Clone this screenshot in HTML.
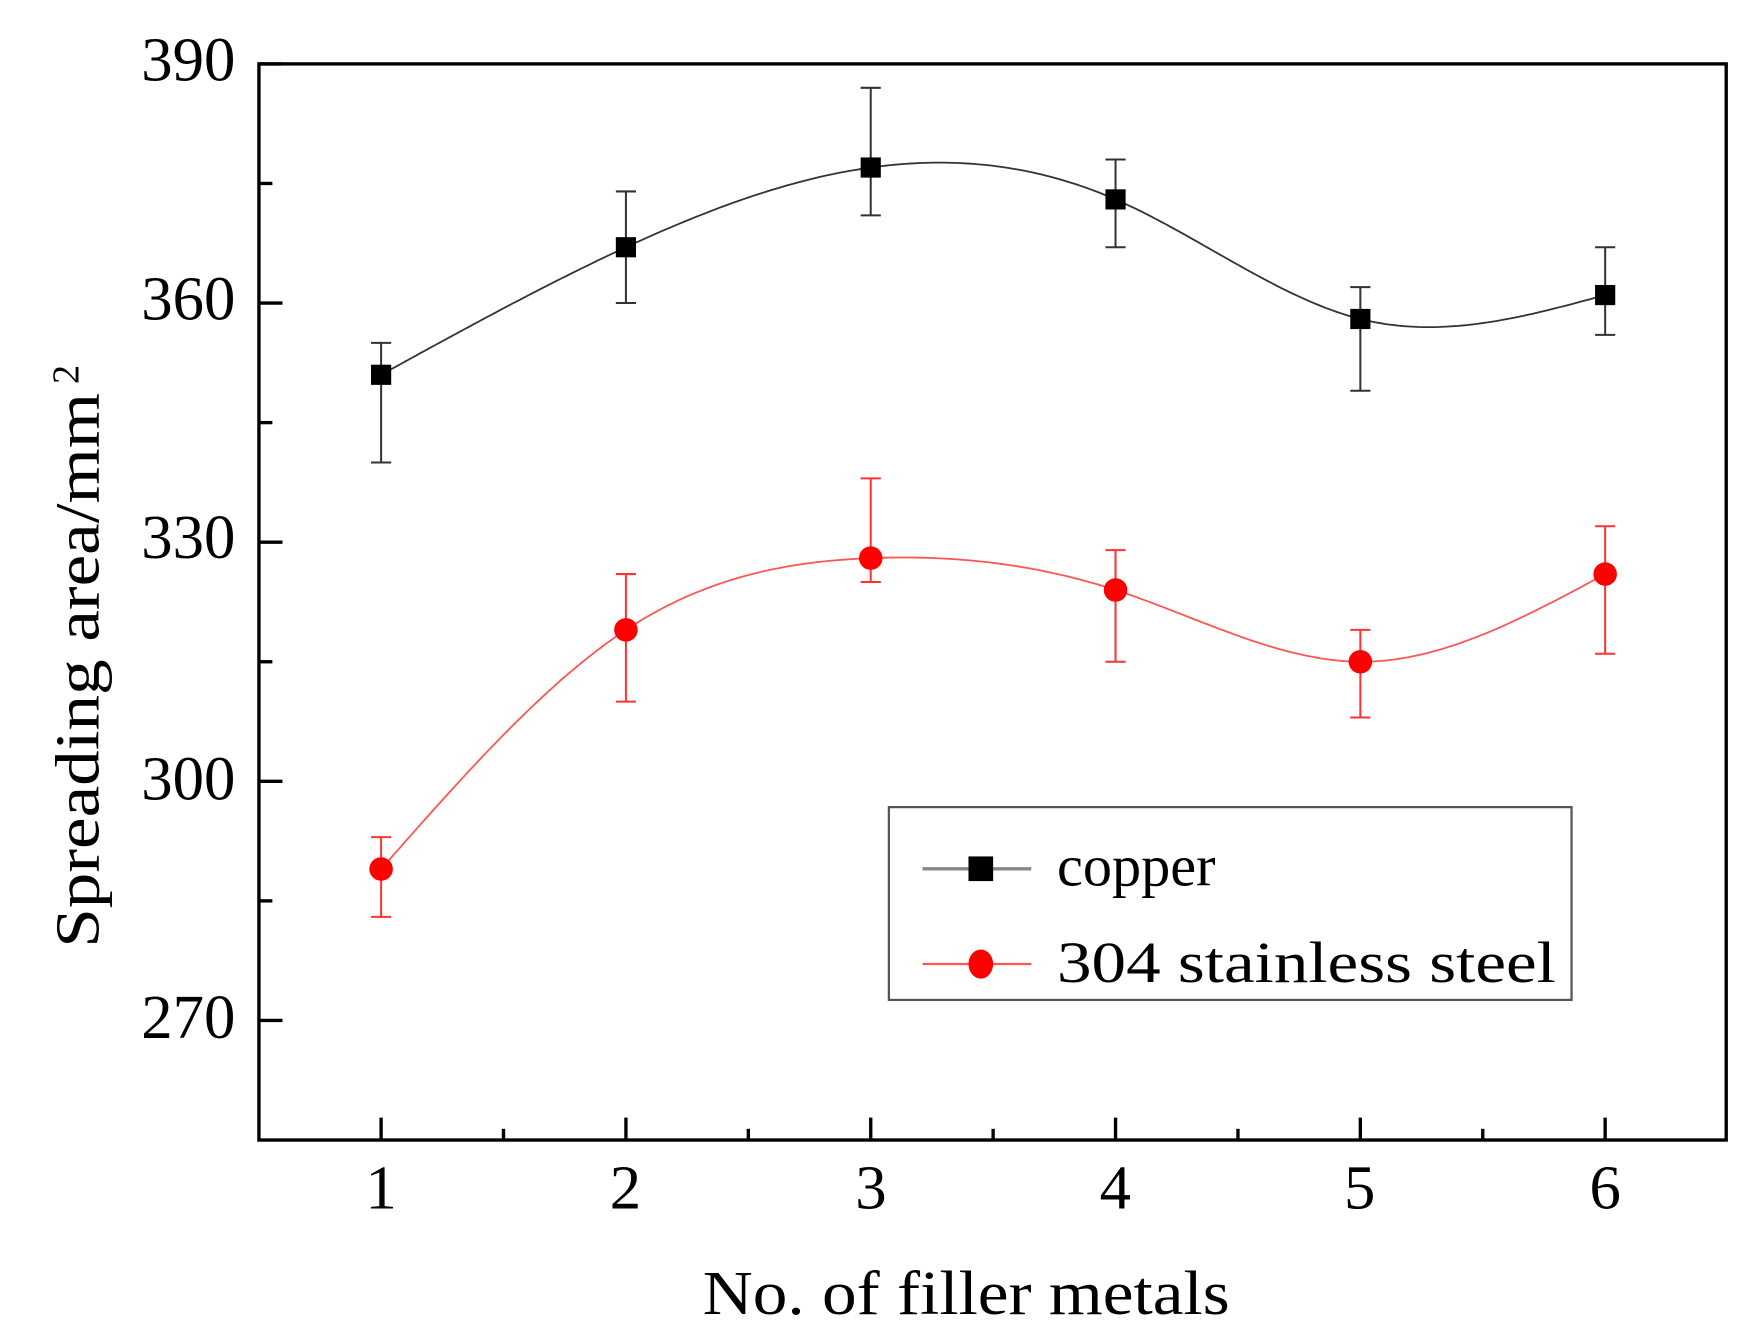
<!DOCTYPE html>
<html><head><meta charset="utf-8"><style>html,body{margin:0;padding:0;background:#fff}svg{display:block}</style></head>
<body>
<svg id="s" width="1752" height="1338" viewBox="0 0 1563 1193.6" preserveAspectRatio="none" xmlns="http://www.w3.org/2000/svg" font-family="Liberation Serif, serif">
<rect width="1563" height="1194" fill="#fff"/>
<g id="plot"></g>
<rect x="231" y="57" width="1309" height="960" fill="none" stroke="#000" stroke-width="3"/>
<g font-size="56" text-anchor="end">
<text x="210" y="72">390</text><text x="210" y="285">360</text><text x="210" y="498">330</text><text x="210" y="713">300</text><text x="210" y="926">270</text>
</g>
<g font-size="56" text-anchor="middle">
<text x="340" y="1078">1</text><text x="558" y="1078">2</text><text x="777" y="1078">3</text><text x="995" y="1078">4</text><text x="1213" y="1078">5</text><text x="1432" y="1078">6</text>
</g>
<text x="862" y="1172" font-size="56" text-anchor="middle" textLength="470" lengthAdjust="spacingAndGlyphs">No. of filler metals</text>
<text transform="translate(88,598) rotate(-90)" font-size="56" text-anchor="middle" textLength="495" lengthAdjust="spacingAndGlyphs">Spreading area/mm</text>
<text transform="translate(70,334) rotate(-90)" font-size="34" text-anchor="middle">2</text>
<rect x="793" y="720" width="609" height="172" fill="#fff" stroke="#555" stroke-width="2"/>
<line x1="823" y1="775" x2="920" y2="775" stroke="#888" stroke-width="3"/>
<rect x="864" y="764" width="22" height="22" fill="#000"/>
<text x="943" y="790" font-size="52">copper</text>
<line x1="823" y1="860" x2="920" y2="860" stroke="#f55" stroke-width="2"/>
<ellipse cx="875" cy="860" rx="11" ry="13" fill="#f00"/>
<text x="943" y="876" font-size="52" textLength="445" lengthAdjust="spacingAndGlyphs">304 stainless steel</text>
</svg>
<script>
var g=document.getElementById('plot'),NS='http://www.w3.org/2000/svg';
function X(v){return 340+(v-1)*218.4}function Y(v){return 57+(390-v)*960/135}
function el(t,a){var e=document.createElementNS(NS,t);for(var k in a)e.setAttribute(k,a[k]);g.appendChild(e);return e}
for(var i=0;i<11;i++){var x=340+i*109.2;el('line',{x1:x,y1:1017,x2:x,y2:i%2?1007:997,stroke:'#000','stroke-width':3});}
[390,360,330,300,270].forEach(function(v){el('line',{x1:231,y1:Y(v),x2:252,y2:Y(v),stroke:'#000','stroke-width':3})});
[375,345,315,285].forEach(function(v){el('line',{x1:231,y1:Y(v),x2:243,y2:Y(v),stroke:'#000','stroke-width':3})});
function spline(ys){var n=ys.length,m=new Array(n).fill(0);
var cp=[0],dp=[0];for(var i=1;i<n-1;i++){var r=6*(ys[i+1]-2*ys[i]+ys[i-1]);var den=4-cp[i-1];cp[i]=1/den;dp[i]=(r-dp[i-1])/den;}
for(var i=n-2;i>0;i--){m[i]=dp[i]-cp[i]*m[i+1];}
var p='';for(var i=0;i<n-1;i++){for(var t=0;t<=1.0001;t+=0.02){var y=(1-t)*ys[i]+t*ys[i+1]+((Math.pow(1-t,3)-(1-t))*m[i]+(Math.pow(t,3)-t)*m[i+1])/6;p+=(p?'L':'M')+X(i+1+t).toFixed(1)+','+Y(y).toFixed(1);}}return p;}
var cu=[351,367,377,373,358,361],cuE=[[340,355],[360,374],[371,387],[367,378],[349,362],[356,367]];
var st=[289,319,328,324,315,326],stE=[[283,293],[310,326],[325,338],[315,329],[308,319],[316,332]];
function series(ys,E,col,lc,sq){el('path',{d:spline(ys),fill:'none',stroke:lc,'stroke-width':1.6});
ys.forEach(function(v,i){var x=X(i+1);el('line',{x1:x,y1:Y(E[i][0]),x2:x,y2:Y(E[i][1]),stroke:col,'stroke-width':1.8});
[0,1].forEach(function(j){el('line',{x1:x-9,y1:Y(E[i][j]),x2:x+9,y2:Y(E[i][j]),stroke:col,'stroke-width':1.8})});
if(sq)el('rect',{x:x-9,y:Y(v)-9,width:18,height:18,fill:'#000'});else el('circle',{cx:x,cy:Y(v),r:10.5,fill:'#f00'});});}
series(cu,cuE,'#333','#333',true);series(st,stE,'#f33','#f55',false);
</script>
</body></html>
